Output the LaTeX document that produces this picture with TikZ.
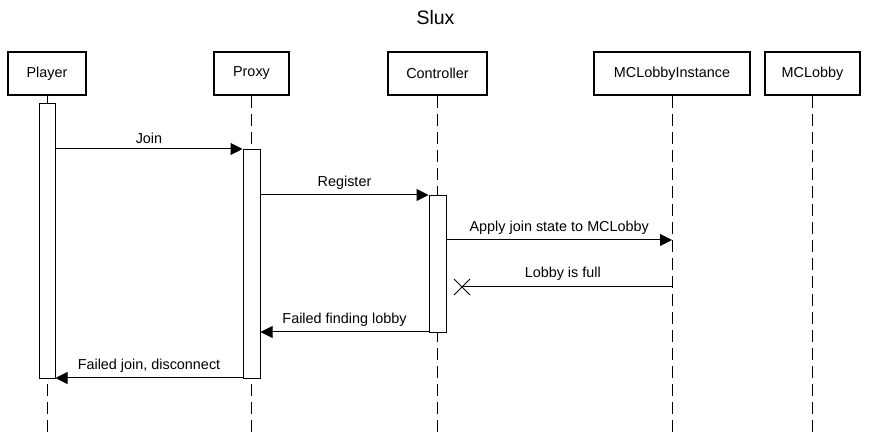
\documentclass[tikz,border=0pt]{standalone}
\usepackage{fontspec}
\setmainfont{Liberation Sans}
\usetikzlibrary{arrows.meta,calc}
\begin{document}
\begin{tikzpicture}[x=1pt,y=-1pt,
  actor/.style={draw,line width=1.9pt,fill=white,minimum height=43pt,inner sep=0pt,font=\fontsize{14.4}{17}\selectfont},
  life/.style={draw,line width=1pt,dash pattern=on 12pt off 6pt},
  bar/.style={draw,line width=1pt,fill=white},
  msg/.style={draw,line width=1pt,-{Triangle[length=12pt,width=12pt]}},
  lbl/.style={font=\fontsize{14.4}{17}\selectfont,inner sep=0pt}]
\path[use as bounding box,fill=white] (0,0) rectangle (871,435);
\node[font=\fontsize{19.5}{22}\selectfont] (title) at (435.5,18) {Slux};
% actors
\node[actor,minimum width=78pt] (pl) at (47,73.5) {Player};
\node[actor,minimum width=75pt] (px) at (251.5,73.5) {Proxy};
\node[actor,minimum width=99pt] (ct) at (437.5,73.5) {Controller};
\node[actor,minimum width=156pt] (mi) at (672,73.5) {MCLobbyInstance};
\node[actor,minimum width=95pt] (mc) at (812.5,73.5) {MCLobby};
% lifeline ends
\coordinate (ple) at (47,435);
\coordinate (pxe) at (251.5,435);
\coordinate (cte) at (437.5,435);
\coordinate (mie) at (672,435);
\coordinate (mce) at (812.5,435);
\draw[life] (pl.south) -- (ple);
\draw[life] (px.south) -- (pxe);
\draw[life] (ct.south) -- (cte);
\draw[life] (mi.south) -- (mie);
\draw[life] (mc.south) -- (mce);
% activation bars
\node[bar,minimum width=16pt,minimum height=275pt,inner sep=0pt,anchor=north] (pla) at (47,103) {};
\node[bar,minimum width=17pt,minimum height=229pt,inner sep=0pt,anchor=north] (pxa) at (251.5,149) {};
\node[bar,minimum width=17pt,minimum height=137pt,inner sep=0pt,anchor=north] (cta) at (437.5,195) {};
% messages
\draw[msg] (pla.east |- 0,149) -- node[lbl,above=5pt] {Join} (pxa.west |- 0,149);
\draw[msg] (pxa.east |- 0,195) -- node[lbl,above=5pt] {Register} (cta.west |- 0,195);
\draw[msg] (cta.east |- 0,240) -- node[lbl,above=5pt] {Apply join state to MCLobby} (mi.south |- 0,240);
\coordinate (x) at (462,287);
\draw[line width=1pt] (mi.south |- 0,287) -- node[lbl,above=6pt,pos=0.52] {Lobby is full} (x);
\draw[line width=1pt] ($(x)+(-8,-8)$) -- ($(x)+(8,8)$);
\draw[line width=1pt] ($(x)+(-8,8)$) -- ($(x)+(8,-8)$);
\draw[msg] (cta.west |- 0,332) -- node[lbl,above=5pt] {Failed finding lobby} (pxa.east |- 0,332);
\draw[msg] (pxa.west |- 0,378) -- node[lbl,above=5pt] {Failed join, disconnect} (pla.east |- 0,378);
\end{tikzpicture}
\end{document}
